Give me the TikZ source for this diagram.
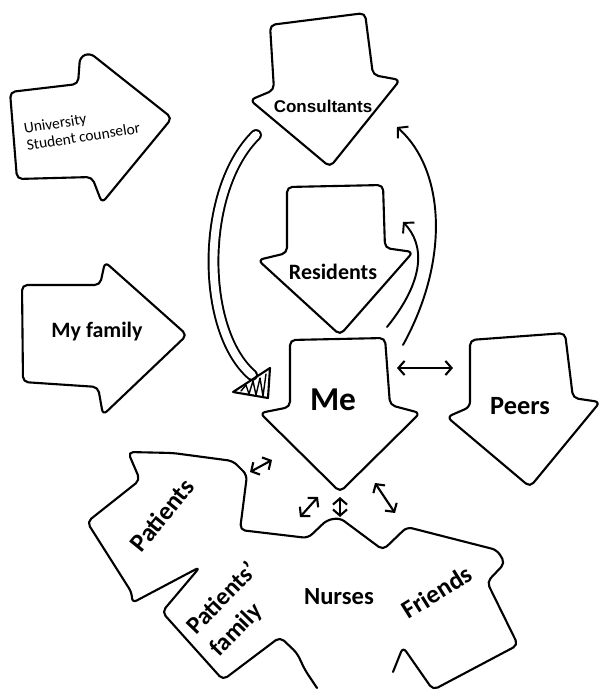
\documentclass[tikz,border=0pt]{standalone}
\usepackage{fontspec}
\setmainfont{Carlito}
\newfontfamily\arialfont{Liberation Sans}
\usetikzlibrary{arrows.meta}

\begin{document}
\begin{tikzpicture}[x=0.02cm,y=-0.02cm,line width=1.2pt,line join=round,line cap=round,
                    outline/.style={draw,rounded corners=3pt},
                    word/.style={font=\bfseries\fontsize{#1}{#1}\selectfont,inner sep=0pt,align=center},
                    link/.style={<->,line width=1.2pt,>={Straight Barb[length=3.5pt,width=8pt]}},
                    pointer/.style={->,line width=1.1pt,>={Straight Barb[length=4pt,width=9pt]}}]

 \useasboundingbox[fill=white] (0,0) rectangle (603,690);

 % the arrows
 \draw[outline] (10,92) -- (78,84) -- (80,57) -- (90,53) -- (172,118) -- (102,203) -- (92,177) -- (17,179) -- cycle;
 \draw[outline] (22,285) -- (100,285) -- (105,262) -- (187,335) -- (103,415) -- (98,387) -- (23,382) -- cycle;
 \draw[outline] (270,25) -- (365,13) -- (373,75) -- (400,80) -- (330,167) -- (250,100) -- (274,90) -- cycle;
 \draw[outline] (287,187) -- (383,185) -- (385,248) -- (413,252) -- (340,335) -- (258,260) -- (287,253) -- cycle;
 \draw[outline] (290,340) -- (385,338) -- (390,405) -- (420,413) -- (340,492) -- (260,413) -- (290,407) -- cycle;
 \draw[outline] (470,340) -- (565,333) -- (573,398) -- (600,402) -- (530,487) -- (447,417) -- (470,407) -- cycle;

 % patients, nurses and friends
 \draw[outline] (393,672) -- (403,647) -- (433,690) -- (518,645) -- (487,582) -- (505,563) -- (497,550)
   -- (407,527) -- (383,550) -- (340,518) -- (327,520) -- (308,538) -- (240,530) -- (247,475) -- (233,461)
   -- (173,453) -- (128,452) -- (140,480) -- (87,522) -- (132,593) -- (132,603) -- (200,567) -- (162,612)
   -- (223,680) -- (280,637) -- (297,653) -- (305,670) -- (317,688);

 \node[font=\fontsize{8.8}{10}\selectfont,inner sep=0pt,align=left,rotate=9] (univ) at (82,128) {University\\Student counselor};
 \node[word=12.5] (family) at (97,332) {My family};
 \node[word=9.7,font=\arialfont\bfseries\fontsize{9.7}{9.7}\selectfont] (cons) at (323,106) {Consultants};
 \node[word=12.5] (res) at (333,272) {Residents};
 \node[word=19] (me) at (333,400) {Me};
 \node[word=15] (peers) at (520,406) {Peers};
 \node[word=14.5,rotate=51] (pat) at (162,515) {Patients};
 \node[word=14,align=left,font=\bfseries\fontsize{14}{18}\selectfont,rotate=46] (patfam) at (234,610) {Patients'\\family};
 \node[word=14] (nurses) at (339,597) {Nurses};
 \node[word=14.5,rotate=32] (friends) at (437,592) {Friends};

 % connectors
 \coordinate (cons out) at (256,135);
 \coordinate (me in) at (252,375);
 \draw[double distance=4.5pt,line width=1.1pt] (cons out) .. controls (200,190) and (200,330) .. (me in);
 \draw (233,392) -- (270,368) -- (268,398) -- cycle;
 \draw[line width=0.8pt] (241,391) -- (246,385) -- (249,394) -- (253,381) -- (256,395) -- (260,378) -- (263,396) -- (266,374);

 \coordinate (me top) at (387,327);
 \coordinate (res in) at (403,222);
 \draw[pointer] (me top) .. controls (425,280) and (425,245) .. (res in);
 \coordinate (me side) at (403,345);
 \coordinate (cons in) at (397,127);
 \draw[pointer] (me side) .. controls (450,260) and (445,170) .. (cons in);

 \coordinate (m1) at (397,368);  \coordinate (p1) at (453,368);
 \coordinate (m2) at (272,460);  \coordinate (p2) at (250,472);
 \coordinate (m3) at (318,497);  \coordinate (p3) at (300,517);
 \coordinate (m4) at (340,497);  \coordinate (p4) at (340,517);
 \coordinate (m5) at (375,483);  \coordinate (p5) at (395,513);
 \foreach \i in {1,...,5}
   \draw[link] (m\i) -- (p\i);

\end{tikzpicture}
\end{document}
